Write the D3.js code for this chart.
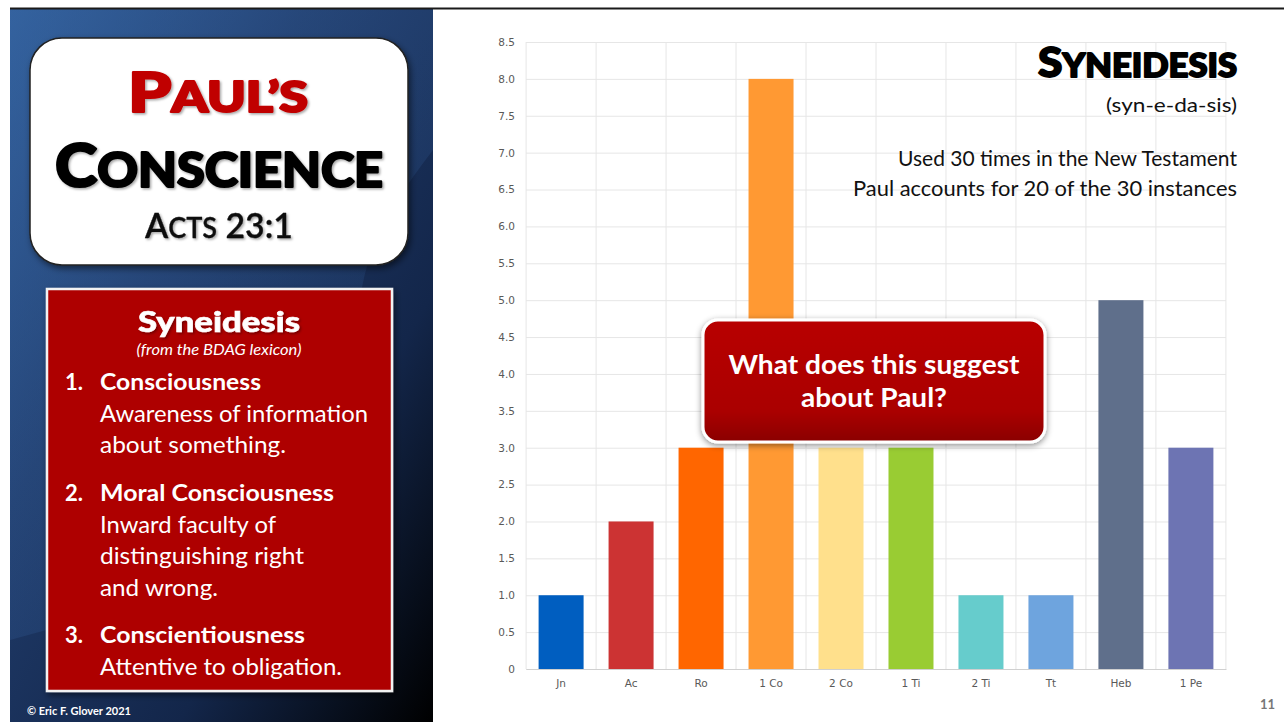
<!DOCTYPE html>
<html><head><meta charset="utf-8">
<script src="https://cdn.jsdelivr.net/npm/d3@7"></script>
<style>body{margin:0;background:#fff;} svg{display:block;}</style>
</head><body><svg id="c" width="1284" height="722"></svg>
<script>
// ---- data ----
const categories = ["Jn", "Ac", "Ro", "1 Co", "2 Co", "1 Ti", "2 Ti", "Tt", "Heb", "1 Pe"];
const counts = [1, 2, 3, 8, 3, 3, 1, 1, 5, 3];
const barColors = ["#005EC0", "#CC3333", "#FF6600", "#FF9933", "#FFE08C", "#99CC33", "#66CCCC", "#6EA4DE", "#5F6F8B", "#6D74B3"];
const yTickValues = [0, 0.5, 1, 1.5, 2, 2.5, 3, 3.5, 4, 4.5, 5, 5.5, 6, 6.5, 7, 7.5, 8, 8.5];
const yTickLabels = ["0", "0.5", "1.0", "1.5", "2.0", "2.5", "3.0", "3.5", "4.0", "4.5", "5.0", "5.5", "6.0", "6.5", "7.0", "7.5", "8.0", "8.5"];
const chartTitle = "Syneidesis";
const pronunciation = "(syn-e-da-sis)";
const notes = ["Used 30 times in the New Testament", "Paul accounts for 20 of the 30 instances"];
const calloutLines = ["What does this suggest", "about Paul?"];
const definitions = [
  {num: "1.", head: "Consciousness", body: ["Awareness of information", "about something."]},
  {num: "2.", head: "Moral Consciousness", body: ["Inward faculty of", "distinguishing right", "and wrong."]},
  {num: "3.", head: "Conscientiousness", body: ["Attentive to obligation."]}
];

const svg = d3.select("#c");
const defs = svg.append("defs");

// filters & gradients
const sh = defs.append("filter").attr("id","shadow").attr("x","-20%").attr("y","-20%").attr("width","140%").attr("height","140%");
sh.append("feDropShadow").attr("dx",2).attr("dy",3).attr("stdDeviation",3).attr("flood-color","#000").attr("flood-opacity",0.5);
const tsh = defs.append("filter").attr("id","tshadow").attr("x","-10%").attr("y","-10%").attr("width","120%").attr("height","130%");
tsh.append("feDropShadow").attr("dx",1.5).attr("dy",1.5).attr("stdDeviation",1).attr("flood-color","#000").attr("flood-opacity",0.35);
const csh = defs.append("filter").attr("id","cshadow").attr("x","-10%").attr("y","-20%").attr("width","120%").attr("height","150%");
csh.append("feDropShadow").attr("dx",0).attr("dy",2).attr("stdDeviation",3).attr("flood-color","#000").attr("flood-opacity",0.45);

const pg = defs.append("linearGradient").attr("id","panelGrad").attr("x1",0).attr("y1",0).attr("x2",1).attr("y2",1);
pg.append("stop").attr("offset",0).attr("stop-color","#2F5C98");
pg.append("stop").attr("offset",0.35).attr("stop-color","#1F3A68");
pg.append("stop").attr("offset",0.7).attr("stop-color","#13264a");
pg.append("stop").attr("offset",1).attr("stop-color","#000000");
const og = defs.append("linearGradient").attr("id","overGrad").attr("x1",0).attr("y1",0).attr("x2",1).attr("y2",1);
og.append("stop").attr("offset",0).attr("stop-color","#3a6aa8").attr("stop-opacity",0.45);
og.append("stop").attr("offset",1).attr("stop-color","#2a4d85").attr("stop-opacity",0.12);
const cg = defs.append("linearGradient").attr("id","callGrad").attr("x1",0).attr("y1",0).attr("x2",0).attr("y2",1);
cg.append("stop").attr("offset",0).attr("stop-color","#B80000");
cg.append("stop").attr("offset",0.75).attr("stop-color","#AA0000");
cg.append("stop").attr("offset",1).attr("stop-color","#8A0000");

svg.append("rect").attr("width",1284).attr("height",722).attr("fill","#fff");

// ---- left panel ----
svg.append("rect").attr("x",10).attr("y",8).attr("width",423).attr("height",714).attr("fill","url(#panelGrad)");
svg.append("path").attr("d","M10,8 H433 V150 C395,200 368,240 360,300 L300,560 L10,640 Z").attr("fill","url(#overGrad)");
svg.append("line").attr("x1",10).attr("x2",1284).attr("y1",8.5).attr("y2",8.5).attr("stroke","#1a1a1a").attr("stroke-width",2);

// title card
svg.append("rect").attr("x",30).attr("y",38).attr("width",378).attr("height",227).attr("rx",32)
  .attr("fill","#fff").attr("stroke","#222").attr("stroke-width",1.5).attr("filter","url(#shadow)");
const heavy = "Lato, Roboto, 'DejaVu Sans', sans-serif";
function smallCaps(x, y, big, rest, bigSize, smallSize, color, width, weight, family, strokeW) {
  const t = svg.append("text").attr("x",x).attr("y",y).attr("text-anchor","middle")
    .attr("font-family",family).attr("font-weight",weight).attr("fill",color)
    .attr("stroke",color).attr("stroke-width",strokeW).attr("stroke-linejoin","round")
    .attr("filter","url(#tshadow)").attr("textLength",width).attr("lengthAdjust","spacingAndGlyphs");
  t.append("tspan").attr("font-size",bigSize).text(big);
  rest.forEach(r => t.append("tspan").attr("font-size", r[1] ? bigSize : smallSize).text(r[0]));
  return t;
}
smallCaps(218, 112, "P", [["AUL’S",false]], 56, 42, "#C00000", 180, 900, heavy, 2.2);
smallCaps(219, 187, "C", [["ONSCIENCE",false]], 61, 48, "#000", 328, 900, heavy, 2.2);
smallCaps(219, 238, "A", [["CTS",false],[" 23:1",true]], 35, 28, "#111", 148, 600, "Lato, 'Open Sans', sans-serif", 0.3);

// definitions box
svg.append("rect").attr("x",47).attr("y",289).attr("width",345).attr("height",402)
  .attr("fill","#AE0000").attr("stroke","#f2f2f2").attr("stroke-width",2.5).attr("filter","url(#shadow)");
const body = "Lato, 'Open Sans', sans-serif";
svg.append("text").attr("x",219).attr("y",332).attr("text-anchor","middle").attr("font-family",body)
  .attr("font-weight",900).attr("font-size",29).attr("fill","#fff").attr("stroke","#fff").attr("stroke-width",0.6)
  .attr("filter","url(#tshadow)")
  .attr("textLength",162).attr("lengthAdjust","spacingAndGlyphs").text(chartTitle);
svg.append("text").attr("x",219).attr("y",355).attr("text-anchor","middle").attr("font-family",body)
  .attr("font-style","italic").attr("font-size",14.5).attr("fill","#fff")
  .attr("textLength",165).attr("lengthAdjust","spacingAndGlyphs").text("(from the BDAG lexicon)");
const headY = [390, 501, 643];
const headW = [161, 234, 205];
const bodyW = [[268, 186], [176, 204, 118], [242]];
definitions.forEach((d, i) => {
  svg.append("text").attr("x",65).attr("y",headY[i]).attr("font-family",body).attr("font-weight",700)
    .attr("font-size",22).attr("fill","#fff").text(d.num);
  svg.append("text").attr("x",100).attr("y",headY[i]).attr("font-family",body).attr("font-weight",700)
    .attr("font-size",22).attr("fill","#fff").attr("textLength",headW[i]).attr("lengthAdjust","spacingAndGlyphs").text(d.head);
  d.body.forEach((b, j) => {
    svg.append("text").attr("x",100).attr("y",headY[i] + 31.7*(j+1)).attr("font-family",body)
      .attr("font-size",22.5).attr("fill","#fff").attr("textLength",bodyW[i][j]).attr("lengthAdjust","spacingAndGlyphs").text(b);
  });
});
svg.append("text").attr("x",27).attr("y",715).attr("font-family",body).attr("font-weight",700)
  .attr("font-size",11.5).attr("fill","#fff").attr("textLength",104).attr("lengthAdjust","spacingAndGlyphs").text("© Eric F. Glover 2021");

// ---- chart ----
const x = d3.scaleBand().domain(categories).range([526,1226]).paddingInner(0.357).paddingOuter(0.18);
const y = d3.scaleLinear().domain([0,8.5]).range([669,42]);
const gapHalf = (x.step() - x.bandwidth())/2;

// horizontal grid
svg.append("g").attr("transform","translate(526,0)")
  .call(d3.axisLeft(y).tickValues(yTickValues).tickSize(-700).tickFormat(""))
  .call(g => g.select(".domain").remove())
  .call(g => g.selectAll("line").attr("stroke","#E6E6E6"));
// vertical grid at band boundaries
const vb = categories.map(c => x(c) - gapHalf).concat([x(categories[categories.length-1]) + x.bandwidth() + gapHalf]);
svg.append("g").selectAll("line").data(vb).join("line")
  .attr("x1",d=>d).attr("x2",d=>d).attr("y1",y(8.5)).attr("y2",y(0)).attr("stroke","#E6E6E6");

// bars
svg.append("g").selectAll("rect").data(categories).join("rect")
  .attr("x",d=>x(d)).attr("width",x.bandwidth())
  .attr("y",(d,i)=>y(counts[i])).attr("height",(d,i)=>y(0)-y(counts[i]))
  .attr("fill",(d,i)=>barColors[i]);

// axes
svg.append("g").attr("transform","translate(526,0)")
  .call(d3.axisLeft(y).tickValues(yTickValues).tickFormat((d,i)=>yTickLabels[i]).tickSize(0).tickPadding(11))
  .call(g => g.select(".domain").remove())
  .call(g => g.selectAll("text").attr("font-family","'DejaVu Sans', Verdana, sans-serif").attr("font-size",10.5).attr("fill","#595959"));
svg.append("g").attr("transform","translate(0,669)")
  .call(d3.axisBottom(x).tickSize(0).tickPadding(11))
  .call(g => g.select(".domain").attr("stroke","#D0D0D0"))
  .call(g => g.selectAll("text").attr("font-family","'DejaVu Sans', Verdana, sans-serif").attr("font-size",10.5).attr("fill","#595959"));

// chart title block
const tt = svg.append("text").attr("x",1237).attr("y",77).attr("text-anchor","end")
  .attr("font-family",heavy).attr("font-weight",900).attr("fill","#000")
  .attr("stroke","#000").attr("stroke-width",1.8).attr("stroke-linejoin","round")
  .attr("textLength",199).attr("lengthAdjust","spacingAndGlyphs");
tt.append("tspan").attr("font-size",41).text(chartTitle[0].toUpperCase());
tt.append("tspan").attr("font-size",32).text(chartTitle.slice(1).toUpperCase());
svg.append("text").attr("x",1237).attr("y",112).attr("text-anchor","end").attr("font-family",body)
  .attr("font-size",20).attr("fill","#111").attr("textLength",131).attr("lengthAdjust","spacingAndGlyphs").text(pronunciation);
const noteW = [339, 384];
notes.forEach((n,i) => {
  svg.append("text").attr("x",1237).attr("y",166 + i*30).attr("text-anchor","end").attr("font-family",body)
    .attr("font-size",21.5).attr("fill","#111").attr("textLength",noteW[i]).attr("lengthAdjust","spacingAndGlyphs").text(n);
});

// callout
svg.append("rect").attr("x",703).attr("y",320).attr("width",342).attr("height",122).attr("rx",15)
  .attr("fill","url(#callGrad)").attr("stroke","#fff").attr("stroke-width",3).attr("filter","url(#cshadow)");
const callW = [291, 146];
calloutLines.forEach((l,i) => {
  svg.append("text").attr("x",874).attr("y",374 + i*33).attr("text-anchor","middle").attr("font-family",body)
    .attr("font-weight",700).attr("font-size",26).attr("fill","#fff")
    .attr("textLength",callW[i]).attr("lengthAdjust","spacingAndGlyphs").text(l);
});

// page number
svg.append("text").attr("x",1275).attr("y",709).attr("text-anchor","end").attr("font-family",body)
  .attr("font-weight",700).attr("font-size",13).attr("fill","#777").text("11");
</script>
</body></html>
